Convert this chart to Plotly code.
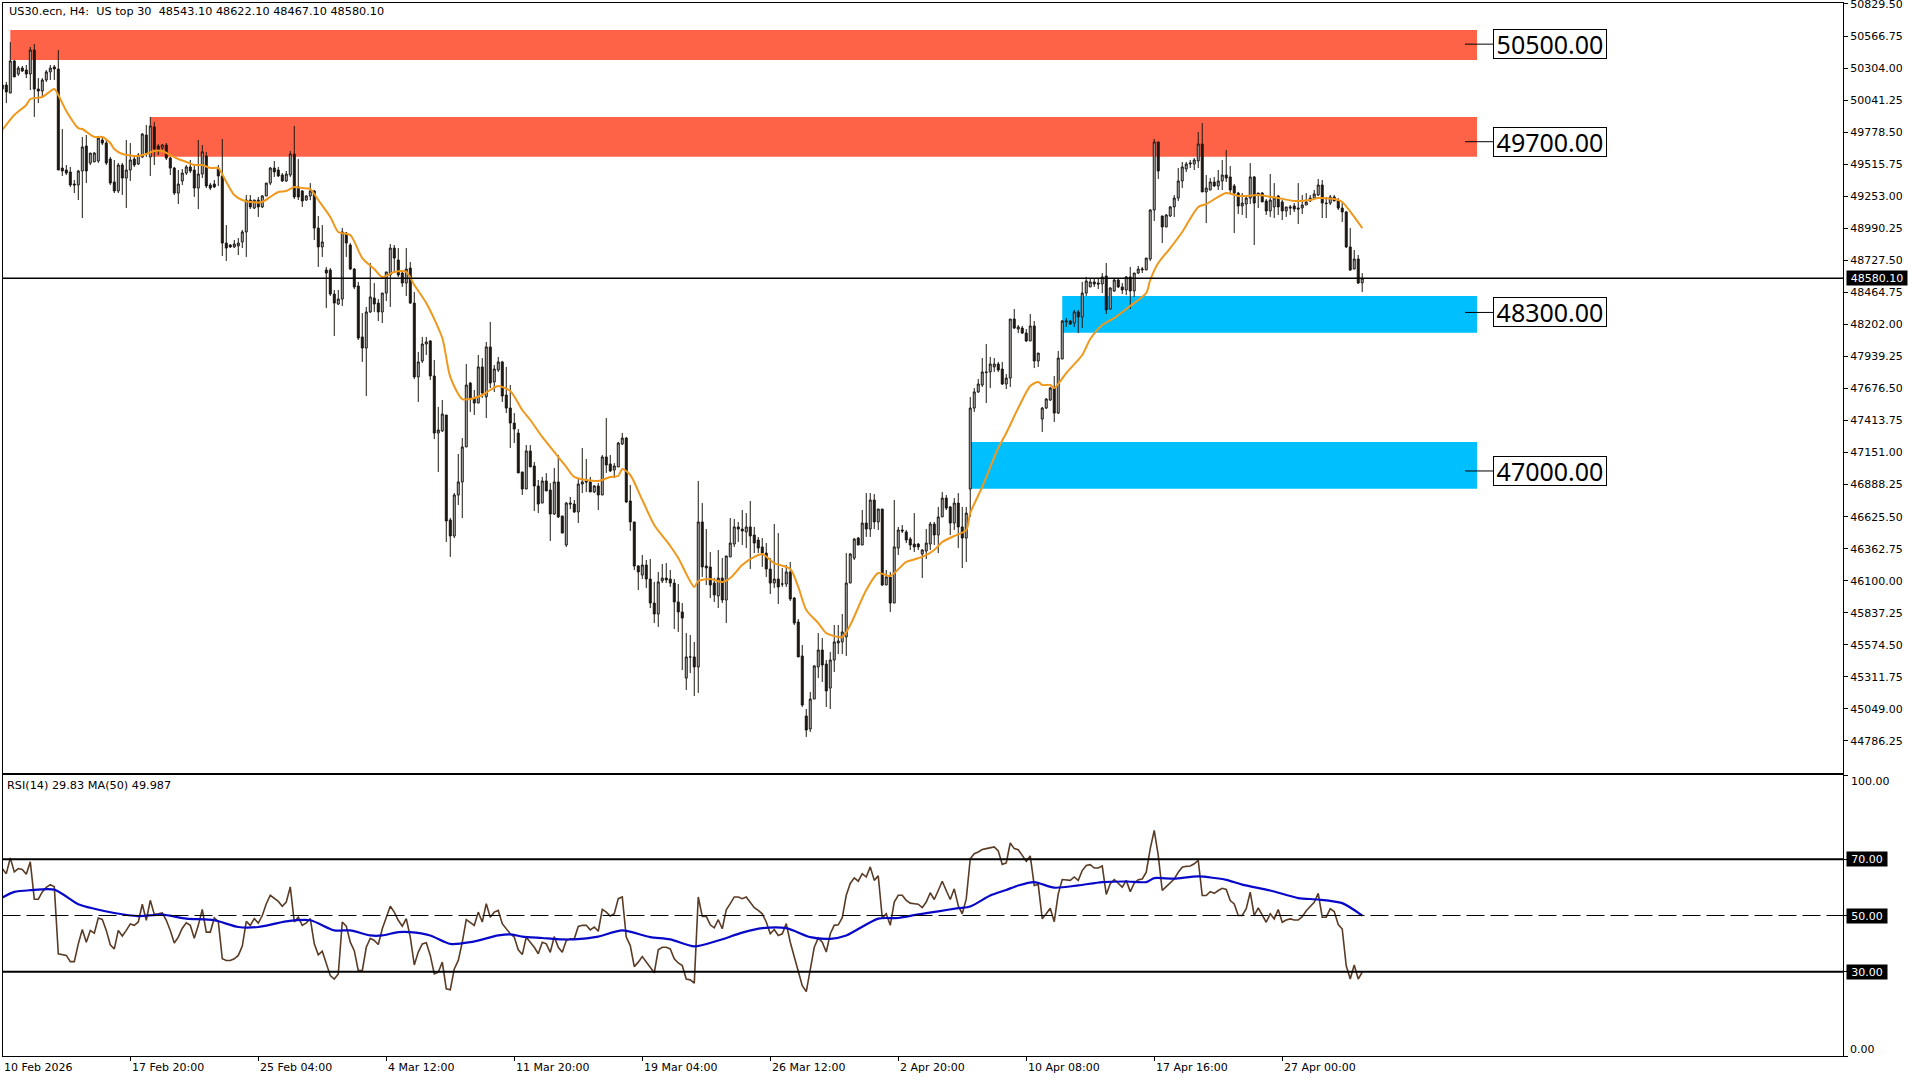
import plotly.graph_objects as go

W, H = 1920, 1080

highs = [50173,50190,50518,50370,50321,50321,50329,50477,50501,50222,50222,50288,50329,50329,50452,49804,49509,49493,49386,49468,
49739,49755,49607,49616,49739,49739,49714,49575,49550,49526,49526,49714,49689,49591,49607,49771,49837,49903,49862,49681,
49681,49689,49575,49493,49468,49476,49509,49550,49509,49714,49673,49616,49361,49386,49509,49722,49017,48861,48894,48910,
48976,49263,49263,49222,49247,49263,49361,49493,49542,49493,49443,49460,49624,49829,49558,49304,49263,49361,49304,49091,
49017,48673,48664,48484,48484,48992,48960,48869,48664,48550,48295,48345,48705,48541,48410,48459,48632,48861,48853,48828,
48632,48828,48714,48468,47976,48099,48099,48074,47910,47525,47582,47459,46615,46819,47139,47270,47877,47730,47664,47951,
47926,48058,48222,47869,47935,47902,47853,47705,47475,47344,46992,47213,47213,47074,46926,46951,46983,46901,47024,47131,
46631,46746,46787,46762,46943,47188,47098,46951,46885,46901,47131,47434,47131,47065,47238,47312,47279,46885,46582,46229,
46311,46270,46278,46090,46172,46237,46245,46188,46114,46073,45917,45671,45655,45598,46918,46737,46524,46336,46122,46352,
46286,46303,46614,46606,46582,46680,46655,46754,46541,46459,46450,46409,46286,46565,46491,46204,46229,46254,45967,45786,
45573,45048,45188,45409,45671,45630,45450,45516,45737,45737,45827,46327,46327,46450,46459,46680,46819,46819,46811,46688,
46688,46188,46172,46762,46541,46557,46516,46459,46655,46409,46360,46524,46582,46582,46705,46828,46803,46713,46778,46819,
46705,46705,47607,47680,47754,47926,48041,47935,47926,47894,47894,47795,48246,48328,48197,48189,48164,48287,48230,47967,
47525,47598,47689,47779,47984,48238,48254,48238,48320,48320,48550,48591,48582,48582,48582,48623,48705,48509,48574,48574,
48541,48599,48673,48623,48681,48673,48746,49148,49722,49698,49091,49107,49173,49263,49484,49534,49534,49550,49566,49780,
49853,49427,49402,49411,49468,49550,49632,49501,49353,49288,49279,49263,49525,49419,49279,49288,49230,49435,49361,49263,
49222,49165,49181,49197,49361,49263,49279,49263,49304,49394,49386,49247,49263,49263,49238,49197,49132,48992,48812,48771,
48622.1]

lows = [50124,50017,50099,50231,50239,50272,50222,50124,49903,50017,50067,50190,50206,50206,49468,49419,49427,49329,49279,49222,
49074,49361,49509,49534,49526,49673,49509,49345,49279,49279,49263,49156,49378,49493,49509,49566,49575,49419,49509,49591,
49632,49550,49427,49263,49189,49345,49427,49443,49247,49148,49402,49320,49304,49320,49337,48763,48722,48828,48828,48771,
48828,48755,49148,49148,49083,49156,49255,49345,49411,49411,49370,49370,49411,49230,49222,49165,49214,49222,48894,48673,
48755,48336,48435,48107,48361,48353,48755,48648,48492,48074,47894,47615,48295,48304,48230,48213,48394,48345,48623,48591,
48509,48435,48369,47754,47566,47885,47951,47746,47262,46992,47320,46418,46295,46450,46721,46614,47197,47484,47459,47557,
47598,47434,47680,47648,47812,47566,47475,47188,47229,47000,46803,46852,47033,46672,46655,46737,46836,46426,46639,46614,
46491,46377,46688,46655,46573,46819,46828,46828,46819,46680,46803,46984,46992,46942,47033,47213,46737,46508,46188,46024,
46114,46040,45876,45753,45721,46081,46081,46049,45704,45680,45368,45204,45343,45155,45180,46131,46065,45958,45926,45876,
45917,45753,46295,46377,46418,46393,46368,46196,46327,46327,46213,46131,45991,46040,45909,46049,46049,45934,45737,45475,
45065,44819,44860,45130,45302,45270,45065,45048,45352,45499,45499,45483,46081,46270,46393,46393,46459,46459,46524,46516,
46057,46065,45844,45917,46311,46491,46409,46352,46336,46352,46122,46278,46352,46393,46327,46623,46680,46475,46516,46368,
46204,46254,46623,47484,47640,47689,47557,47680,47812,47812,47705,47672,47689,48164,48131,48123,48058,48066,47844,47853,
47320,47508,47574,47402,47467,47918,48181,48197,48181,48131,48172,48435,48509,48509,48492,48459,48287,48320,48468,48500,
48451,48443,48328,48427,48615,48623,48648,48722,49050,49394,48869,48999,49083,49083,49214,49320,49451,49484,49468,49484,
49288,49033,49304,49329,49304,49304,49370,49279,48951,49107,49099,49074,49189,48853,49156,49206,49099,49083,49074,49099,
49058,49083,49099,49124,49025,49107,49181,49206,49230,49255,49074,49074,49181,49214,49140,49042,48828,48640,48656,48533,
48467.1]

opens = [50132,50165,50099,50362,50255,50304,50288,50255,50452,50132,50116,50206,50272,50313,50296,49484,49468,49452,49353,49345,
49460,49665,49525,49534,49542,49714,49689,49558,49370,49296,49509,49402,49468,49558,49517,49575,49755,49575,49821,49665,
49648,49673,49566,49484,49279,49378,49443,49493,49468,49320,49435,49583,49345,49353,49484,49419,48869,48853,48837,48845,
48878,48960,49222,49156,49222,49165,49255,49361,49484,49468,49427,49378,49427,49599,49329,49296,49222,49255,49296,48992,
48837,48648,48648,48451,48369,48410,48951,48853,48656,48517,48099,48008,48304,48418,48377,48304,48459,48607,48828,48730,
48623,48541,48664,48377,47771,47902,48041,48066,47779,47311,47328,47459,46598,46467,46803,46910,47197,47721,47598,47557,
47853,47607,48017,47730,47828,47894,47623,47516,47393,47311,46992,46852,47164,47041,46877,46737,46918,46844,46647,46910,
46631,46393,46737,46729,46664,46893,46918,46910,46828,46877,46803,47115,47057,47008,47033,47221,47270,46754,46582,46221,
46147,46229,46114,45917,45827,46098,46122,46114,46081,45926,45844,45302,45475,45475,45393,46582,46221,46213,46081,45975,
46122,45942,46295,46401,46541,46524,46500,46541,46475,46434,46377,46327,46196,46081,46114,46073,46073,46172,45958,45762,
45483,44991,44884,45130,45393,45532,45417,45220,45450,45589,45598,45639,46081,46286,46450,46393,46573,46524,46762,46582,
46688,46065,46131,45917,46368,46516,46500,46442,46401,46401,46319,46344,46401,46565,46475,46623,46778,46705,46573,46737,
46541,46450,46852,47516,47648,47705,47812,47812,47853,47877,47836,47713,47762,48246,48164,48172,48131,48066,48189,47902,
47426,47516,47582,47680,47475,47918,48222,48230,48213,48304,48263,48459,48509,48550,48541,48533,48599,48328,48476,48566,
48509,48484,48591,48476,48623,48648,48648,48738,49140,49698,49091,49001,49091,49165,49238,49378,49476,49517,49517,49542,
49681,49288,49304,49370,49337,49378,49427,49411,49337,49279,49173,49189,49238,49411,49279,49279,49214,49132,49165,49255,
49206,49132,49165,49173,49157,49157,49181,49214,49238,49263,49345,49197,49197,49247,49214,49156,49124,48837,48656,48738,
48543.1]

closes = [50165,50108,50362,50231,50304,50280,50255,50452,50132,50116,50206,50272,50304,50296,49468,49460,49443,49345,49345,49460,
49657,49460,49607,49607,49730,49689,49525,49361,49296,49509,49402,49468,49550,49509,49591,49763,49607,49829,49640,49632,
49673,49566,49484,49279,49353,49443,49493,49460,49320,49435,49616,49337,49320,49329,49419,48869,48828,48837,48861,48869,
48960,49222,49165,49222,49165,49255,49361,49484,49452,49419,49378,49435,49599,49247,49247,49214,49255,49296,48992,48837,
48878,48623,48451,48377,48410,48960,48869,48656,48509,48090,48008,48304,48427,48369,48304,48459,48632,48828,48746,48607,
48541,48656,48377,47771,47894,48041,48058,47779,47311,47336,47467,46590,46467,46803,46910,47197,47705,47598,47557,47853,
47639,48017,47721,47836,47894,47615,47516,47393,47344,46984,46852,47164,47033,46877,46729,46918,46836,46647,46910,46623,
46491,46737,46729,46664,46893,46910,46910,46828,46877,46803,47115,47049,47000,47041,47229,47270,46746,46582,46221,46172,
46229,46114,45917,45827,46090,46122,46106,46081,45926,45844,45794,45475,45475,45393,46582,46213,46205,46065,45983,46122,
45942,46303,46409,46541,46524,46508,46541,46467,46409,46368,46327,46196,46081,46114,46049,46073,46172,45950,45753,45475,
45081,44876,45130,45401,45532,45409,45196,45450,45598,45606,45680,46081,46319,46442,46393,46573,46524,46762,46582,46688,
46065,46131,45917,46377,46516,46508,46434,46393,46377,46377,46352,46409,46565,46475,46623,46778,46696,46573,46737,46541,
46450,46655,47516,47648,47713,47812,47808,47877,47877,47828,47713,47762,48246,48172,48181,48131,48066,48189,47902,47967,
47516,47590,47680,47475,47926,48230,48230,48205,48304,48263,48459,48558,48550,48533,48533,48591,48320,48500,48566,48509,
48484,48591,48476,48623,48656,48656,48746,49140,49698,49460,49001,49099,49165,49238,49378,49493,49517,49525,49550,49681,
49288,49320,49370,49337,49378,49427,49402,49304,49279,49173,49197,49238,49411,49197,49263,49206,49132,49222,49238,49165,
49132,49165,49157,49148,49148,49181,49206,49238,49271,49345,49197,49193,49247,49214,49156,49124,48837,48648,48738,48541,
48580.1]

ema_idx = [0,3,6,7,10,13,14,16,19,20,23,25,27,28,30,34,36,38,40,42,44,46,48,50,52,54,56,58,60,62,65,67,69,71,73,75,77,79,82,84,87,90,93,95,98,101,103,106,110,112,115,118,120,122,124,127,130,132,135,138,141,143,149,152,154,155,157,160,163,167,169,173,174,177,180,182,185,188,190,193,197,199,201,204,206,210,212,216,219,222,226,230,233,235,238,241,242,245,249,251,254,257,259,260,262,263,266,270,272,275,278,282,286,287,289,292,295,299,301,306,309,311,314,319,323,327,329,333,335,338,340]
ema_val = [49796,49919,50001,50050,50067,50132,50083,49952,49812,49804,49739,49739,49689,49640,49599,49583,49599,49624,49624,49591,49558,49534,49509,49509,49484,49484,49370,49263,49222,49206,49206,49247,49288,49296,49329,49320,49312,49222,49083,48960,48935,48746,48656,48591,48632,48632,48525,48377,48090,47771,47590,47598,47623,47664,47697,47656,47500,47418,47279,47156,47033,46951,46918,46951,46959,47016,46967,46762,46557,46385,46286,46049,46098,46114,46090,46122,46229,46295,46319,46245,46196,46049,45860,45753,45671,45639,45737,46024,46163,46139,46254,46295,46352,46418,46467,46516,46655,46869,47188,47311,47516,47697,47730,47705,47705,47680,47803,47951,48082,48197,48254,48353,48459,48566,48705,48828,48960,49165,49189,49279,49255,49255,49263,49238,49214,49222,49238,49230,49206,49083,48992]

rsi_val = [66.7,64.9,70.5,65.5,66.7,66.4,64.7,69.1,55.8,55.8,58.4,60,61,60.2,36.4,36.1,35.8,33.6,33.6,39.9,
45,40.5,44.7,43.7,49.1,48.6,44.7,39.6,38.1,44.7,42.7,44.7,47,46.5,47.7,54,48.3,55.4,50.4,50.6,
50.9,48.3,44.7,40.2,42.3,45.5,47.4,46.5,41.9,46.5,52.2,44.1,44.1,49.1,47.9,34.6,34,34,34.6,35.8,
39.1,47.9,46.5,48.9,47.3,50,54.2,57.2,56.2,55,53.3,54.8,60.2,47.7,49.4,46.5,47.4,48.9,39.9,36,
37.3,32.8,28.6,27.4,29.2,47.7,46.2,40.5,37.5,30.4,30.4,38.7,41.9,41.1,39.7,45.3,49.4,53.3,51.2,48.3,
46.2,48.9,42.3,32.4,37,39.9,40.3,35.8,29.2,29.8,33.4,23.9,23.6,31,34,40.5,48.5,47.4,46.5,51.2,
47.7,54.2,49.4,51.2,51.8,47.1,45.3,43.5,42.3,37.8,36.1,42.3,40.5,38.7,36.4,40.5,39.9,36.9,42.5,38.7,
36.9,41.1,41.7,41.7,46.1,46.5,46.5,44.9,45.9,44.4,52.2,51.2,49.8,50.6,56,56.6,42.3,39.3,31.8,33.4,
35.4,33.4,31.8,29.6,37.8,38.7,38.7,38.1,34.6,33.1,32.2,27.4,27.1,25.9,56.6,49.7,49.7,46.7,45.6,48.5,
45.3,52,54.2,56.6,56.6,56,56.6,54.8,52.8,51.8,50.6,47.7,43.5,45,42.9,43.5,47.1,40.5,35.2,29.8,
25,22.9,31,38.7,42,40.5,37,43.5,46.5,46.7,49.2,57.2,61.4,63.4,62.2,64.9,63.7,67.3,62.5,64.1,
49.2,50.6,46.5,54.8,57.2,57.2,55.4,54.4,54.2,54,52.8,54.8,58.1,55.7,58.9,62.2,58.9,55.7,59.5,53.5,
50.6,55.9,70.2,72,72.6,73.5,73.8,74,74.4,73,68.2,68.7,75.8,73.8,73.4,71.4,69.3,71.2,60.7,61,
48.8,50.6,52.6,47.8,57.7,62.8,62.7,62.5,63.7,62.5,66,67.8,68.1,66.9,66.9,67.6,57.5,61.3,62.8,61.5,
60.1,62.5,58.5,61.5,62.7,63,65.4,73.8,80.3,71.4,58.9,60.3,61.6,63,65.4,67.2,67.5,67.6,68.4,69.6,
57.1,57.1,58.5,57.9,58.9,59.7,59.3,55.3,54.1,50,50,52.4,58.3,50,52.7,50,47.6,50.6,48.8,52.1,
47.6,48.4,48.8,48.4,48.4,49.6,51.7,53.2,54.7,57.9,49.4,49.4,52.4,51.4,46.8,45.2,32.1,27.4,32.4,27.4,
29.83]

rsi_ma_idx = [0,3,7,13,19,23,28,34,40,46,53,59,64,71,77,83,87,92,95,99,102,107,112,117,124,127,130,135,140,143,149,155,162,167,173,179,185,190,196,202,207,211,219,224,229,234,239,242,247,251,254,258,263,269,275,281,286,288,293,299,306,310,317,324,329,335,340]
rsi_ma_val = [56.4,58.4,59,59.2,54,52.4,50.9,49.8,50.3,48.9,48.3,45.9,45.9,47.9,48.3,44.7,44.7,42.9,42.9,44.1,44.1,42.9,39.9,40.5,42.9,43.3,42.5,42,41.5,41.5,42.5,44.7,42.3,41.5,39,41.1,43.9,45.5,45.5,42.3,41.7,42.9,48.9,49.1,50.4,51.5,52.6,53.2,57.1,59.1,60.7,61.9,59.9,60.7,61.9,62.1,61.9,63.3,63.1,63.9,62.7,61,58.9,56.2,55.7,54.4,49.987]

price_ticks = [50829.50,50566.75,50304.00,50041.25,49778.50,49515.75,49253.00,48990.25,48727.50,48464.75,48202.00,47939.25,47676.50,47413.75,47151.00,46888.25,46625.50,46362.75,46100.00,45837.25,45574.50,45311.75,45049.00,44786.25]
time_tick_idx = [0,32,64,96,128,160,192,224,256,288,320]
time_tick_labels = ["10 Feb 2026","17 Feb 20:00","25 Feb 04:00","4 Mar 12:00","11 Mar 20:00","19 Mar 04:00","26 Mar 12:00","2 Apr 20:00","10 Apr 08:00","17 Apr 16:00","27 Apr 00:00"]

zone_levels = [50500.0, 49700.0, 48300.0, 47000.0]
zone_tops = [50616, 49903, 48435, 47238]
zone_bottoms = [50370, 49577, 48134, 46855]
zone_starts = [2, 37, 265, 242]
zone_colors = ["#ff6347", "#ff6347", "#00bfff", "#00bfff"]
zone_end = 368.7
last_price = 48580.10
rsi_levels = [70, 50, 30]

assert all(len(a) == 341 for a in (highs, lows, opens, closes, rsi_val))
assert len(ema_idx) == len(ema_val) and len(rsi_ma_idx) == len(rsi_ma_val)

FONT = "DejaVu Sans"
def px_x(p): return p / W
def px_y(p): return 1 - p / H

fig = go.Figure()
bars = list(range(341))
fig.add_trace(go.Candlestick(x=bars, open=opens, high=highs, low=lows, close=closes,
    whiskerwidth=0,
    increasing=dict(line=dict(color="#1c1712", width=1), fillcolor="#b8b8b8"),
    decreasing=dict(line=dict(color="#1c1712", width=1), fillcolor="#1c1712"),
    xaxis="x", yaxis="y", showlegend=False))
fig.add_trace(go.Scatter(x=ema_idx, y=ema_val, mode="lines", line=dict(color="#f0981c", width=2, shape="spline", smoothing=0.7),
    xaxis="x", yaxis="y", showlegend=False))
fig.add_trace(go.Scatter(x=bars, y=rsi_val, mode="lines", line=dict(color="#5a3c26", width=1.6),
    xaxis="x2", yaxis="y2", showlegend=False))
fig.add_trace(go.Scatter(x=rsi_ma_idx, y=rsi_ma_val, mode="lines", line=dict(color="#0808c8", width=2.2, shape="spline", smoothing=0.7),
    xaxis="x2", yaxis="y2", showlegend=False))

shapes = []
for s, t, b, c in zip(zone_starts, zone_tops, zone_bottoms, zone_colors):
    shapes.append(dict(type="rect", xref="x", yref="y", x0=s, x1=zone_end, y0=b, y1=t,
                       fillcolor=c, line=dict(width=0), layer="below"))
for lv in zone_levels:
    shapes.append(dict(type="line", xref="x", yref="y", x0=365.7, x1=372.7, y0=lv, y1=lv,
                       line=dict(color="black", width=1)))
shapes.append(dict(type="line", xref="x domain", yref="y", x0=0, x1=1, y0=last_price, y1=last_price,
                   line=dict(color="black", width=1.4)))
for lv in rsi_levels:
    shapes.append(dict(type="line", xref="x2 domain", yref="y2", x0=0, x1=1, y0=lv, y1=lv,
                       line=dict(color="black", width=1 if lv == 50 else 2,
                                 dash="18px,6px" if lv == 50 else "solid")))

ann = []
def text(x, y, s, **kw):
    d = dict(xref="paper", yref="paper", x=px_x(x), y=px_y(y), text=s, showarrow=False,
             xanchor="left", yanchor="middle", font=dict(family=FONT, size=11, color="black"))
    d.update(kw)
    ann.append(d)

text(7, 11.5, "US30.ecn, H4:  US top 30  48543.10 48622.10 48467.10 48580.10", font=dict(family=FONT, size=11.25, color="black"))
text(5, 785.7, "RSI(14) 29.83 MA(50) 49.987", font=dict(family=FONT, size=11.25, color="black"))
for i, lab in zip(time_tick_idx, time_tick_labels):
    text(2.3 + 4 * i, 1067, lab)
for lv in zone_levels:
    ann.append(dict(xref="x", yref="y", x=372.7, y=lv, text=f"{lv:.2f}", showarrow=False,
                    xanchor="left", yanchor="middle", width=112, height=28, align="center",
                    bgcolor="white", bordercolor="black", borderwidth=1, borderpad=0,
                    font=dict(family="Noto Sans", size=25, color="black")))
ann.append(dict(xref="paper", yref="y", x=px_x(1846), y=last_price, text=f"{last_price:.2f}", showarrow=False,
                xanchor="left", yanchor="middle", width=60, height=14, bgcolor="black", borderpad=0,
                font=dict(family=FONT, size=11, color="white")))
for lv in rsi_levels:
    ann.append(dict(xref="paper", yref="y2", x=px_x(1846), y=lv, text=f"{lv:.2f}", showarrow=False,
                    xanchor="left", yanchor="middle", width=40, height=14, bgcolor="black", borderpad=0,
                    font=dict(family=FONT, size=11, color="white")))
text(1849, 781.7, "100.00")
text(1848, 1049.5, "0.00")

axis_common = dict(showgrid=False, zeroline=False, showline=True, linecolor="black", linewidth=1, mirror=True)
fig.update_layout(
    width=W, height=H, margin=dict(l=0, r=0, t=0, b=0, autoexpand=False),
    paper_bgcolor="white", plot_bgcolor="white",
    showlegend=False, hovermode=False, shapes=shapes, annotations=ann,
    xaxis=dict(domain=[px_x(2.5), px_x(1843)], range=[0.05, 460.2], showticklabels=False, ticks="",
               rangeslider=dict(visible=False), anchor="y", **axis_common),
    yaxis=dict(domain=[px_y(772.5), px_y(2.5)], range=[44527.5, 50841.5], side="right", anchor="x",
               tickmode="array", tickvals=price_ticks, ticktext=[f"{v:.2f}" for v in price_ticks],
               ticks="outside", ticklen=4, tickcolor="black", tickwidth=1, ticklabeloverflow="allow",
               tickfont=dict(family=FONT, size=11, color="black"), **axis_common),
    xaxis2=dict(domain=[px_x(2.5), px_x(1843)], range=[0.05, 460.2], anchor="y2",
                tickmode="array", tickvals=time_tick_idx[1:], ticktext=[""] * (len(time_tick_idx) - 1),
                ticks="outside", ticklen=4, tickcolor="black", tickwidth=1, **axis_common),
    yaxis2=dict(domain=[px_y(1056), px_y(774.5)], range=[0, 100.18], side="right", anchor="x2",
                tickmode="array", tickvals=[0, 30, 50, 70, 100], ticktext=[""] * 5,
                ticks="outside", ticklen=4, tickcolor="black", tickwidth=1, **axis_common),
    font=dict(family=FONT, size=11, color="black"),
)
fig.write_html("out.html", config=dict(displayModeBar=False),
    post_script="document.body.style.margin='0';document.documentElement.style.overflow='hidden';")
